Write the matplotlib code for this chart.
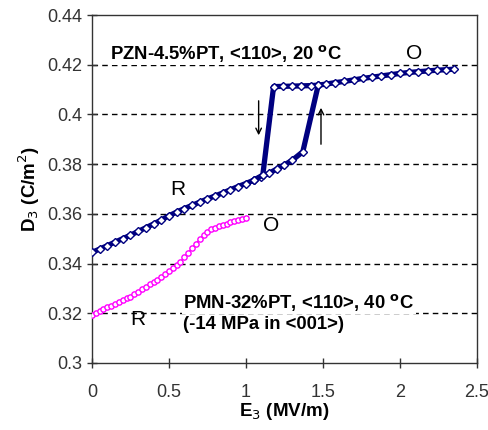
import matplotlib
matplotlib.use('Agg')
import matplotlib.pyplot as plt

plt.rcParams['font.family'] = ['Liberation Sans', 'DejaVu Sans']

# PZN-4.5%PT, field going up (0 -> 2.35 MV/m)
E_pzn_up = [0.00, 0.05, 0.10, 0.15, 0.20, 0.25, 0.30, 0.35, 0.40, 0.45, 0.50, 0.55,
            0.60, 0.65, 0.70, 0.75, 0.80, 0.85, 0.90, 0.95, 1.00, 1.05, 1.10, 1.15,
            1.20, 1.25, 1.30, 1.37, 1.47, 1.52, 1.58, 1.64, 1.70, 1.76, 1.82, 1.88,
            1.94, 2.00, 2.06, 2.12, 2.18, 2.24, 2.30, 2.35]
D_pzn_up = [0.3445, 0.3458, 0.3472, 0.3486, 0.3500, 0.3514, 0.3529, 0.3544, 0.3559,
            0.3575, 0.3592, 0.3607, 0.3621, 0.3634, 0.3647, 0.3660, 0.3672, 0.3684,
            0.3697, 0.3710, 0.3722, 0.3735, 0.3749, 0.3763, 0.3780, 0.3797, 0.3815,
            0.3850, 0.4118, 0.4122, 0.4128, 0.4133, 0.4139, 0.4145, 0.4150, 0.4155,
            0.4160, 0.4165, 0.4169, 0.4172, 0.4175, 0.4178, 0.4180, 0.4182]

# PZN-4.5%PT, field coming down (part that leaves the up branch)
E_pzn_down = [1.47, 1.42, 1.36, 1.30, 1.24, 1.18, 1.11, 1.05]
D_pzn_down = [0.4118, 0.4116, 0.4115, 0.4114, 0.4113, 0.4112, 0.3756, 0.3735]

# PMN-32%PT
E_pmn = [0.000, 0.025, 0.050, 0.075, 0.100, 0.125, 0.150, 0.175, 0.200, 0.225,
         0.250, 0.275, 0.300, 0.325, 0.350, 0.375, 0.400, 0.425, 0.450, 0.475,
         0.500, 0.525, 0.550, 0.575, 0.600, 0.625, 0.650, 0.675, 0.700, 0.725,
         0.750, 0.775, 0.800, 0.825, 0.850, 0.875, 0.900, 0.925, 0.950, 0.975, 1.000]
D_pmn = [0.3192, 0.3200, 0.3209, 0.3217, 0.3224, 0.3231, 0.3237, 0.3244, 0.3252,
         0.3260, 0.3267, 0.3277, 0.3287, 0.3297, 0.3306, 0.3316, 0.3325, 0.3335,
         0.3346, 0.3357, 0.3370, 0.3382, 0.3395, 0.3408, 0.3425, 0.3444, 0.3462,
         0.3480, 0.3498, 0.3514, 0.3527, 0.3537, 0.3544, 0.3550, 0.3555, 0.3561,
         0.3566, 0.3571, 0.3576, 0.3579, 0.3582]

xticks = [0, 0.5, 1, 1.5, 2, 2.5]
yticks = [0.3, 0.32, 0.34, 0.36, 0.38, 0.4, 0.42, 0.44]
xtick_labels = ['0', '0.5', '1', '1.5', '2', '2.5']
ytick_labels = ['0.3', '0.32', '0.34', '0.36', '0.38', '0.4', '0.42', '0.44']

fig = plt.figure(figsize=(4.89, 4.30), dpi=100)
ax = fig.add_axes([0.188, 0.156, 0.787, 0.809])

for y in yticks[1:-1]:
    ax.axhline(y, color='black', lw=1, ls=(0, (4, 3)), zorder=1)

navy = '#000080'
ax.plot(E_pzn_up, D_pzn_up, color=navy, lw=3.8, marker='D', markersize=4,
        markerfacecolor='white', markeredgecolor=navy, markeredgewidth=1.0, zorder=3)
ax.plot(E_pzn_down, D_pzn_down, color=navy, lw=3.8, marker='D', markersize=4,
        markerfacecolor='white', markeredgecolor=navy, markeredgewidth=1.0, zorder=3)
ax.plot(E_pmn, D_pmn, color='#FF00FF', lw=1, marker='o', markersize=3.8,
        markerfacecolor='white', markeredgecolor='#FF00FF', markeredgewidth=1.0, zorder=3)

# arrows on the loop
ax.annotate('', xy=(1.083, 0.3905), xytext=(1.083, 0.4066),
            arrowprops=dict(arrowstyle='->', color='black', lw=1))
ax.annotate('', xy=(1.488, 0.4038), xytext=(1.488, 0.3869),
            arrowprops=dict(arrowstyle='->', color='black', lw=1))

box = dict(facecolor='white', edgecolor='none', pad=1)
ax.text(0.117, 0.4247, 'PZN-4.5%PT, <110>, 20 $^{\\mathbf{o}}$C', fontsize=13.3,
        fontweight='bold', va='center', ha='left', bbox=box, zorder=4)
ax.text(2.095, 0.4247, 'O', fontsize=15, va='center', ha='center', zorder=4)
ax.text(0.555, 0.3696, 'R', fontsize=15, va='center', ha='center', zorder=4)
ax.text(1.162, 0.3555, 'O', fontsize=15, va='center', ha='center', zorder=4)
ax.text(0.30, 0.3173, 'R', fontsize=15, va='center', ha='center', zorder=4)
ax.text(0.594, 0.3245, 'PMN-32%PT, <110>, 40 $^{\\mathbf{o}}$C', fontsize=13.3,
        fontweight='bold', va='center', ha='left', bbox=box, zorder=4)
ax.text(0.594, 0.3153, '(-14 MPa in <001>)', fontsize=13.3,
        fontweight='bold', va='center', ha='left', bbox=box, zorder=4)

ax.set_xlim(0, 2.5)
ax.set_ylim(0.3, 0.44)
ax.set_xticks(xticks)
ax.set_xticklabels(xtick_labels)
ax.set_yticks(yticks)
ax.set_yticklabels(ytick_labels)
ax.tick_params(direction='inout', length=7, width=1, labelsize=13, colors='#333333',
               labelcolor='#333333')
ax.tick_params(axis='x', pad=12)
for s in ax.spines.values():
    s.set_color('#333333')
    s.set_linewidth(1)

ax.set_xlabel('E$_3$ (MV/m)', fontsize=13.5, fontweight='bold', labelpad=0)
ax.set_ylabel('D$_3$ (C/m$^2$)', fontsize=13.5, fontweight='bold', labelpad=4)

fig.savefig('out.png', dpi=100)
